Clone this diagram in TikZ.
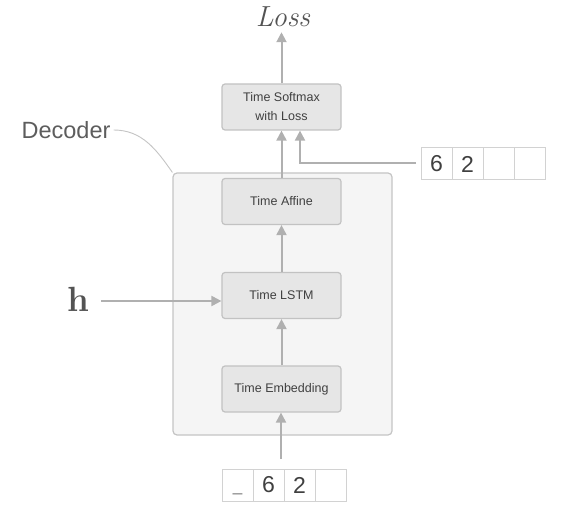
\documentclass[tikz,border=0pt]{standalone}
\usepackage{fontspec}
\newfontfamily\boxfont{Liberation Sans}
\usepackage{xcolor}
\usetikzlibrary{arrows.meta,positioning}
\definecolor{framefill}{HTML}{F5F5F5}
\definecolor{frameline}{HTML}{C4C4C4}
\definecolor{layerfill}{HTML}{E6E6E6}
\definecolor{layerline}{HTML}{C2C2C2}
\definecolor{arrowgray}{HTML}{B0B0B0}
\definecolor{cellline}{HTML}{D2D2D2}
\definecolor{textgray}{HTML}{404040}
\begin{document}
\begin{tikzpicture}[x=1pt, y=-1pt,
    frame/.style={rectangle, draw=frameline, line width=1.2pt, rounded corners=4pt, fill=framefill, minimum width=219pt, minimum height=262pt, inner sep=0pt},
    layer/.style={rectangle, draw=layerline, line width=1.2pt, rounded corners=3pt, fill=layerfill, minimum width=119pt, minimum height=46pt, inner sep=1pt, align=center, text=textgray, font=\boxfont\fontsize{12.5}{19}\selectfont},
    arrow/.style={-{Triangle[length=10pt,width=10pt]}, line width=2pt, draw=arrowgray},
    cell/.style={rectangle, draw=cellline, line width=1pt, fill=white, minimum width=31pt, minimum height=32pt, inner sep=0pt, text=textgray, font=\boxfont\fontsize{23}{23}\selectfont}
]
\useasboundingbox (0,0) rectangle (583,526);
\node[frame] (decoder) at (282.5,304) {};
\node[layer] (softmax) at (281.5,107)   {Time Softmax\\with Loss};
\node[layer] (affine)  at (281.5,201.5) {Time Affine};
\node[layer] (lstm)    at (281.5,295.5) {Time LSTM};
\node[layer] (embed)   at (281.5,389)   {Time Embedding};
\node[text=textgray!90, inner sep=5pt, font=\itshape\fontsize{29}{29}\selectfont] (loss) at (283,17) {Loss};
\draw[arrow] (embed) -- (lstm);
\draw[arrow] (lstm) -- (affine);
\draw[arrow] (affine) -- (softmax);
\draw[arrow] (softmax) -- (softmax |- loss.south);

% decoder label
\node[text=textgray!85, inner sep=3pt, font=\boxfont\fontsize{23.5}{23.5}\selectfont] (declabel) at (66,130) {Decoder};
\draw[frameline, line width=0.9pt] (declabel.east) to[out=0,in=125] (decoder.north west);

% hidden state
\node[text=textgray!90, font=\bfseries\fontsize{35}{35}\selectfont] (h) at (78,299) {h};
\coordinate (hin) at (101,301);
\draw[arrow] (hin) -- (hin -| lstm.west);

% input cells
\node[cell] (x1) at (237.5,485) {\vphantom{6}{\fontsize{17}{17}\selectfont\color{textgray!70}\_}};
\node[cell] (x2) at (268.5,485) {6};
\node[cell] (x3) at (299.5,485) {2};
\node[cell] (x4) at (330.5,485) {};
\coordinate (xin) at (281,459);
\draw[arrow] (xin) -- (xin |- embed.south);

% target cells
\node[cell] (t1) at (436.5,164) {6};
\node[cell] (t2) at (467.5,164) {2};
\node[cell] (t3) at (498.5,164) {};
\node[cell] (t4) at (529.5,164) {};
\coordinate (tin) at (416,163);
\draw[arrow] (tin) -| ([xshift=18.5pt]softmax.south);
\end{tikzpicture}
\end{document}
